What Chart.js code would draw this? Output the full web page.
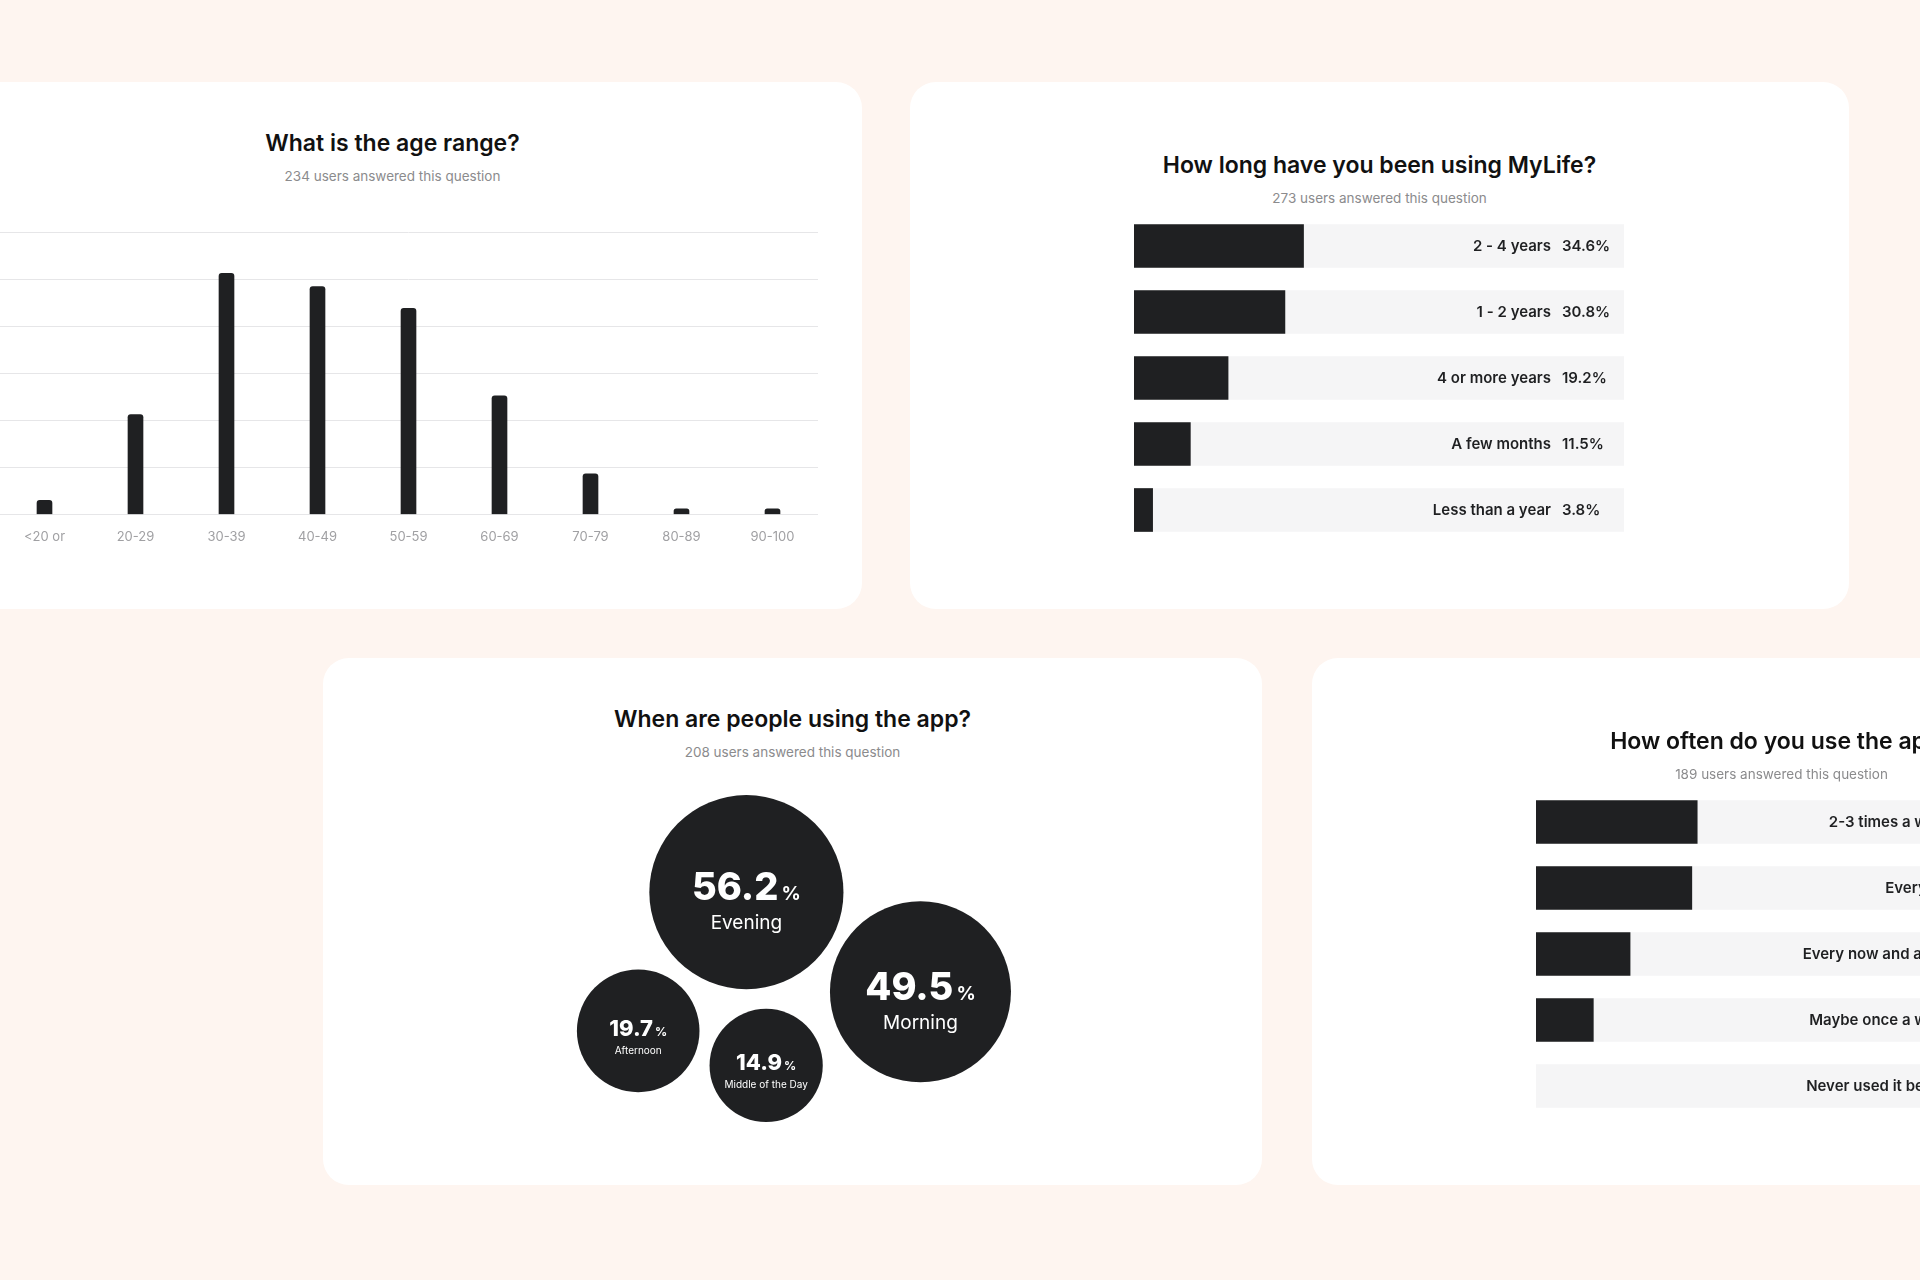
<!DOCTYPE html>
<html>
<head>
<meta charset="utf-8">
<title>Survey results</title>
<script src="https://cdn.jsdelivr.net/npm/chart.js@4.4.1/dist/chart.umd.min.js"></script>
<style>
  html, body { margin: 0; padding: 0; }
  body {
    width: 1920px; height: 1280px; overflow: hidden; position: relative;
    background: #fef5f0; font-family: Inter, "Noto Sans", sans-serif;
  }
  .card {
    position: absolute; width: 939px; height: 527px;
    background: #fff; border-radius: 26px;
  }
  .card h2 {
    position: absolute; left: 0; width: 100%; margin: 0;
    text-align: center; font-size: 23px; line-height: 23px; font-weight: 600; color: #111;
    white-space: nowrap;
  }
  .card p {
    position: absolute; left: 0; width: 100%; margin: 0;
    text-align: center; font-size: 13.5px; line-height: 14px; color: #8b8b8d;
    white-space: nowrap;
  }
  .card canvas { position: absolute; }
</style>
</head>
<body>

<div class="card" style="left:-77px; top:82px;">
  <h2 style="top:50px;">What is the age range?</h2>
  <p style="top:87px;">234 users answered this question</p>
  <canvas id="ageChart" style="left:74px; top:144px; width:825px; height:340px;"></canvas>
</div>

<div class="card" style="left:910px; top:82px;">
  <h2 style="top:72px;">How long have you been using MyLife?</h2>
  <p style="top:109px;">273 users answered this question</p>
  <canvas id="durationChart" style="left:224px; top:131px; width:490px; height:330px;"></canvas>
</div>

<div class="card" style="left:323px; top:658px;">
  <h2 style="top:50px;">When are people using the app?</h2>
  <p style="top:87px;">208 users answered this question</p>
  <!-- canvas is wider than the plot by the largest bubble radius on every side -->
  <canvas id="timeChart" style="left:-98px; top:14px; width:1135px; height:566px;"></canvas>
</div>

<div class="card" style="left:1312px; top:658px;">
  <h2 style="top:72px;">How often do you use the app?</h2>
  <p style="top:109px;">189 users answered this question</p>
  <canvas id="frequencyChart" style="left:224px; top:131px; width:490px; height:330px;"></canvas>
</div>

<script>
// ---- data ----
const ageLabels = ['<20 or', '20-29', '30-39', '40-49', '50-59', '60-69', '70-79', '80-89', '90-100'];
const ageValues = [1.5, 10.6, 25.6, 24.2, 21.9, 12.6, 4.3, 0.6, 0.6];
const ageTicks = [0, 5, 10, 15, 20, 25, 30];

const durationLabels = ['2 - 4 years', '1 - 2 years', '4 or more years', 'A few months', 'Less than a year'];
const durationValues = [34.6, 30.8, 19.2, 11.5, 3.8];

const timeLabels = ['Evening', 'Morning', 'Afternoon', 'Middle of the Day'];
const timeValues = [56.2, 49.5, 19.7, 14.9];
// where each bubble sits on the 0-100 layout axes
const timeX = [45.1, 63.6, 33.6, 47.2];
const timeY = [66.9, 40.1, 29.6, 20.3];

const frequencyLabels = ['2-3 times a week', 'Everyday', 'Every now and again', 'Maybe once a week', 'Never used it before'];
const frequencyValues = [32.9, 31.8, 19.2, 11.7, 0];

const DARK = '#1f2022';
const TRACK = '#f5f5f6';
const FONT = 'Inter, "Noto Sans", sans-serif';

Chart.defaults.font.family = FONT;
Chart.defaults.animation = false;
Chart.defaults.events = [];
Chart.defaults.plugins.legend.display = false;
Chart.defaults.plugins.tooltip.enabled = false;

// 1. Age range (vertical bars)
new Chart(document.getElementById('ageChart'), {
    type: 'bar',
    data: {
        labels: ageLabels,
        datasets: [{
            data: ageValues,
            backgroundColor: DARK,
            barThickness: 15,
            borderRadius: 3
        }]
    },
    options: {
        responsive: false,
        layout: { padding: { top: 6, left: 2, right: 4, bottom: 6 } },
        scales: {
            x: {
                grid: { display: false, drawTicks: false },
                border: { display: false },
                ticks: { color: '#a0a0a3', font: { size: 13 }, padding: 15 }
            },
            y: {
                min: ageTicks[0],
                max: ageTicks[ageTicks.length - 1],
                afterBuildTicks: axis => { axis.ticks = ageTicks.map(v => ({ value: v })); },
                grid: { color: '#e6e6e8', drawTicks: false },
                border: { display: false },
                ticks: { display: false }
            }
        }
    }
});

// label + percent drawn inside the track
const trackLabels = {
    id: 'trackLabels',
    afterDatasetsDraw(chart) {
        const { ctx, chartArea } = chart;
        const meta = chart.getDatasetMeta(0);
        const values = chart.data.datasets[0].data;
        ctx.save();
        ctx.fillStyle = DARK;
        ctx.font = '600 15px ' + FONT;
        ctx.textBaseline = 'middle';
        meta.data.forEach((bar, i) => {
            ctx.textAlign = 'right';
            ctx.fillText(chart.data.labels[i], chartArea.right - 73, bar.y);
            ctx.textAlign = 'left';
            ctx.fillText(values[i].toFixed(1) + '%', chartArea.right - 62, bar.y);
        });
        ctx.restore();
    }
};

function makeTrackChart(id, labels, values) {
    return new Chart(document.getElementById(id), {
        type: 'bar',
        data: {
            labels: labels,
            datasets: [
                {
                    data: values,
                    backgroundColor: c => (c.raw > 0 ? DARK : 'rgba(0,0,0,0)'),
                    barThickness: 43,
                    grouped: false
                },
                { data: labels.map(() => 100), backgroundColor: TRACK, barThickness: 43, grouped: false }
            ]
        },
        options: {
            responsive: false,
            indexAxis: 'y',
            layout: { padding: 0 },
            scales: {
                x: { display: false, min: 0, max: 100 },
                y: { display: false }
            }
        },
        plugins: [trackLabels]
    });
}

// 2. How long (horizontal tracks)
makeTrackChart('durationChart', durationLabels, durationValues);

// 3. Time of day (bubbles)
const bubbleRadius = v => 42 + v * 0.98;

const bubbleText = {
    id: 'bubbleText',
    afterDatasetsDraw(chart) {
        const { ctx } = chart;
        const meta = chart.getDatasetMeta(0);
        ctx.save();
        ctx.fillStyle = '#ffffff';
        ctx.textBaseline = 'alphabetic';
        meta.data.forEach((el, i) => {
            const big = el.options.radius > 80;
            const numFont = big ? '800 38px ' + FONT : '800 22px ' + FONT;
            const pctFont = big ? '700 19px ' + FONT : '700 12px ' + FONT;
            const labFont = big ? '400 19px ' + FONT : '400 10px ' + FONT;
            const num = timeValues[i].toFixed(1);
            ctx.font = numFont;
            const wNum = ctx.measureText(num).width;
            ctx.font = pctFont;
            const wPct = ctx.measureText('%').width;
            const gap = big ? 3 : 2;
            const startX = el.x - (wNum + gap + wPct) / 2;
            const baseY = el.y + (big ? 8 : 5);
            ctx.textAlign = 'left';
            ctx.font = numFont;
            ctx.fillText(num, startX, baseY);
            ctx.font = pctFont;
            ctx.fillText('%', startX + wNum + gap, baseY);
            ctx.textAlign = 'center';
            ctx.font = labFont;
            ctx.fillText(chart.data.labels[i], el.x, el.y + (big ? 37 : 23));
        });
        ctx.restore();
    }
};

new Chart(document.getElementById('timeChart'), {
    type: 'bubble',
    data: {
        labels: timeLabels,
        datasets: [{
            data: timeValues.map((v, i) => ({ x: timeX[i], y: timeY[i], v: v })),
            backgroundColor: DARK,
            borderWidth: 0,
            radius: ctx => bubbleRadius(ctx.raw.v),
            clip: false
        }]
    },
    options: {
        responsive: false,
        layout: { padding: 0 },
        scales: {
            x: { display: false, min: 0, max: 100 },
            y: { display: false, min: 0, max: 100 }
        }
    },
    plugins: [bubbleText]
});

// 4. How often (horizontal tracks)
makeTrackChart('frequencyChart', frequencyLabels, frequencyValues);
</script>
</body>
</html>
